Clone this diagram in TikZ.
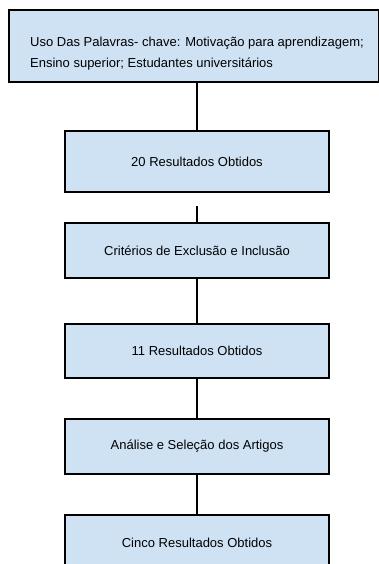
\documentclass[tikz,border=0pt]{standalone}
\usepackage{fontspec}
\setmainfont{Liberation Sans}
\usepackage{xcolor}

\definecolor{boxblue}{RGB}{207,226,243}

\tikzset{
    stagebox/.style={draw=black, fill=boxblue, line width=1.3pt,
        minimum width=264pt, inner sep=0pt,
        font=\fontsize{13}{21}\selectfont},
    link/.style={line width=1.3pt}
}

\begin{document}
\begin{tikzpicture}[x=1pt,y=1pt]

    \useasboundingbox (0,0) rectangle (379,-564);

    % Search terms box
    \node[stagebox, minimum width=370pt, minimum height=72pt] (terms) at (194,-46) {};
    \node[anchor=west, align=left, inner sep=0pt,
          font=\fontsize{13}{21}\selectfont] (termsText) at (30,-54)
        {Uso Das Palavras- chave: Motivação para aprendizagem;\\
         Ensino superior; Estudantes universitários};

    % Stages of the selection
    \node[stagebox, minimum height=61pt] (res20) at (197,-161.5) {20 Resultados Obtidos};
    \node[stagebox, minimum height=55pt] (crit) at (197,-250.5) {Critérios de Exclusão e Inclusão};
    \node[stagebox, minimum height=54pt] (res11) at (197,-351) {11 Resultados Obtidos};
    \node[stagebox, minimum height=55pt] (analise) at (197,-446.5) {Análise e Seleção dos Artigos};
    \node[stagebox, minimum height=55pt] (cinco) at (197,-542.5) {Cinco Resultados Obtidos};

    % Connecting lines
    \draw[link] (res20.north |- terms.south) -- (res20.north);
    \coordinate (gapTop) at (197,-206);
    \draw[link] (gapTop) -- (crit.north);
    \draw[link] (crit.south) -- (res11.north);
    \draw[link] (res11.south) -- (analise.north);
    \draw[link] (analise.south) -- (cinco.north);

\end{tikzpicture}
\end{document}
